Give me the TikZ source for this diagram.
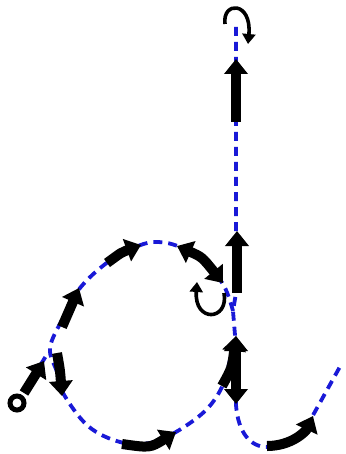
\documentclass[tikz,border=0pt]{standalone}
\usetikzlibrary{arrows.meta}
\definecolor{strokeblue}{RGB}{25,25,215}
\begin{document}
\begin{tikzpicture}[x=1pt,y=-1pt,
  guide/.style={strokeblue, line width=3.8pt, dash pattern=on 9pt off 6pt},
  bigarrow/.style={line width=10pt, -{Triangle[length=15pt,width=23pt]}},
  dblarrow/.style={line width=10pt, {Triangle[length=15pt,width=23pt]}-{Triangle[length=15pt,width=23pt]}},
  curlarrow/.style={line width=3.6pt, -{Triangle[length=10pt,width=13pt]}},
  startmark/.style={circle, draw, line width=5pt, fill=white, minimum size=14pt, inner sep=0pt}]
\useasboundingbox (0,0) rectangle (345,454);

% guide paths
\draw[guide] (17,403) -- (46,356);
\draw[guide] (236,27) -- (236,293) -- (233,311) -- (235,335) -- (236,405)
  .. controls (238,432) and (250,447) .. (267,447)
  .. controls (290,446) and (305,430) .. (312,417) -- (342,363);
\draw[guide] plot[smooth, tension=0.6] coordinates {(233,311) (224,286) (205,262) (180,247) (158,242) (138,246) (108,262) (80,288) (63,318) (50,348) (57,372) (63,393) (88,426) (120,442) (150,443) (176,432) (205,411) (222,387) (230,360) (235,338)};

% named points
\coordinate (a1s) at (24,393);  \coordinate (a1e) at (44,361);
\coordinate (a2s) at (57,353);  \coordinate (a2e) at (62,396);
\coordinate (a3s) at (62,327);  \coordinate (a3e) at (79,288);
\coordinate (a4s) at (107,263); \coordinate (a4e) at (141,245);
\coordinate (a5s) at (177,246); \coordinate (a5e) at (223,283);
\coordinate (a6s) at (224,293); \coordinate (a6e) at (197,282);
\coordinate (a7s) at (237,293); \coordinate (a7e) at (237,231);
\coordinate (a8s) at (236,122); \coordinate (a8e) at (236,59);
\coordinate (a9s) at (225,24);  \coordinate (a9e) at (248,44);
\coordinate (a10s) at (236,336); \coordinate (a10e) at (236,404);
\coordinate (a10b) at (222,386);
\coordinate (a11s) at (122,444); \coordinate (a11e) at (176,432);
\coordinate (a12s) at (267,446); \coordinate (a12e) at (313,416);

\node[startmark] (start) at (17,403) {};

% arrows
\draw[bigarrow] (a1s) -- (a1e);
\draw[bigarrow] (a2s) .. controls (60,370) .. (a2e);
\draw[bigarrow] (a3s) -- (a3e);
\draw[bigarrow] (a4s) .. controls (122,252) .. (a4e);
\draw[dblarrow] (a5s) .. controls (202,257) .. (a5e);
\draw[curlarrow] (a6s) .. controls (229,321) and (194,323) .. (a6e);
\draw[bigarrow] (a7s) -- (a7e);
\draw[bigarrow] (a8s) -- (a8e);
\draw[curlarrow] (a9s) .. controls (222,1) and (252,1) .. (a9e);
\draw[bigarrow] (a10b) .. controls (232,368) .. (a10s);
\draw[dblarrow] (a10s) -- (a10e);
\draw[bigarrow] (a11s) .. controls (150,448) .. (a11e);
\draw[bigarrow] (a12s) .. controls (292,446) and (306,431) .. (a12e);
\end{tikzpicture}
\end{document}
